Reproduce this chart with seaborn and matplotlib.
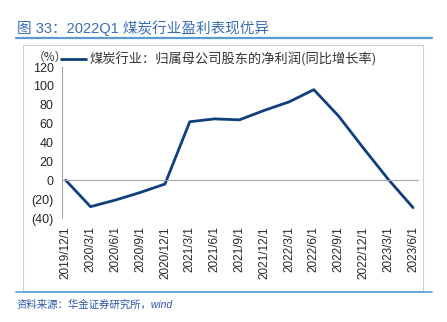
import matplotlib
matplotlib.use("Agg")
import matplotlib.pyplot as plt
import seaborn as sns
import pandas as pd
from matplotlib.patches import Rectangle
from matplotlib.lines import Line2D

dates = ["2019/12/1", "2020/3/1", "2020/6/1", "2020/9/1", "2020/12/1",
         "2021/3/1", "2021/6/1", "2021/9/1", "2021/12/1", "2022/3/1",
         "2022/6/1", "2022/9/1", "2022/12/1", "2023/3/1", "2023/6/1"]
growth = [0, -28, -21, -13, -4, 62, 65, 64, 74, 83, 96, 68, 34, 1, -29]
yticks = [-40, -20, 0, 20, 40, 60, 80, 100, 120]
ylabels = ["(40)", "(20)", "0", "20", "40", "60", "80", "100", "120"]
series_name = "煤炭行业：归属母公司股东的净利润(同比增长率)"

sns.set_style("white")
plt.rcParams["font.family"] = ["Liberation Sans", "Noto Sans CJK SC", "DejaVu Sans"]
CJK = ["Noto Sans CJK SC", "DejaVu Sans"]

W, H = 447, 322
fig = plt.figure(figsize=(W / 100, H / 100), dpi=100)
ax = fig.add_axes([62 / W, 1 - 218 / H, (418 - 62) / W, (218 - 67) / H])

df = pd.DataFrame({"pos": list(range(len(dates))), "val": growth})
sns.lineplot(data=df, x="pos", y="val", ax=ax, color="#0f3f7d", linewidth=2.0,
             legend=False)

ax.set_xlim(-0.15, len(dates) - 1 + 0.2)
ax.set_ylim(-40, 120)
ax.set_yticks(yticks)
ax.set_yticklabels(ylabels)
ax.set_xlabel("")
ax.set_ylabel("")

gray = "#a6a6a6"
for s in ["top", "right"]:
    ax.spines[s].set_visible(False)
ax.spines["left"].set_color(gray)
ax.spines["bottom"].set_color(gray)
ax.spines["bottom"].set_position(("data", 0))
ax.set_xticks(range(len(dates)))
ax.tick_params(axis="x", which="both", labelbottom=False, direction="out",
               length=3, color=gray, width=0.8)
ax.tick_params(axis="y", direction="out", length=3, color=gray, width=0.8,
               labelsize=9, labelcolor="#262626", pad=3)

sec = ax.secondary_xaxis(0)
sec.set_xticks(range(len(dates)))
sec.set_xticklabels(dates, rotation=90, fontsize=8.5, color="#262626")
sec.tick_params(length=0, pad=6)
sec.spines["bottom"].set_visible(False)

# legend
handle = Line2D([], [], color="#0f3f7d", linewidth=2.0)
leg = fig.legend([handle], [series_name], loc="center left",
                 bbox_to_anchor=(61 / W, 1 - 59 / H), frameon=False,
                 borderpad=0, borderaxespad=0, handlelength=1.9,
                 handletextpad=0.25, prop={"family": CJK, "size": 9.5})
for t in leg.get_texts():
    t.set_color("#333333")
fig.text(33 / W, 1 - 57 / H, "（%）", fontsize=8.5, color="#333333",
         ha="left", va="center", family=CJK)

# frame box
fig.patches.append(Rectangle((23 / W, 1 - 291 / H), (423 - 23) / W, (291 - 45) / H,
                             transform=fig.transFigure, fill=False,
                             edgecolor="#d0d0d0", linewidth=0.8))

# title & underline
fig.text(17 / W, 1 - 28 / H, "图 33：2022Q1 煤炭行业盈利表现优异", fontsize=10.5,
         color="#3a6db5", ha="left", va="center")
fig.lines.append(Line2D([16 / W, 432 / W], [1 - 38 / H, 1 - 38 / H],
                        transform=fig.transFigure, color="#5b9bd5", linewidth=1.6))
fig.lines.append(Line2D([16 / W, 432 / W], [1 - 292 / H, 1 - 292 / H],
                        transform=fig.transFigure, color="#5b9bd5", linewidth=1.2))
fig.text(17 / W, 1 - 305 / H, "资料来源：华金证券研究所，wind", fontsize=7.5,
         color="#2855a3", ha="left", va="center", style="italic")

fig.savefig("out.png", dpi=100)
